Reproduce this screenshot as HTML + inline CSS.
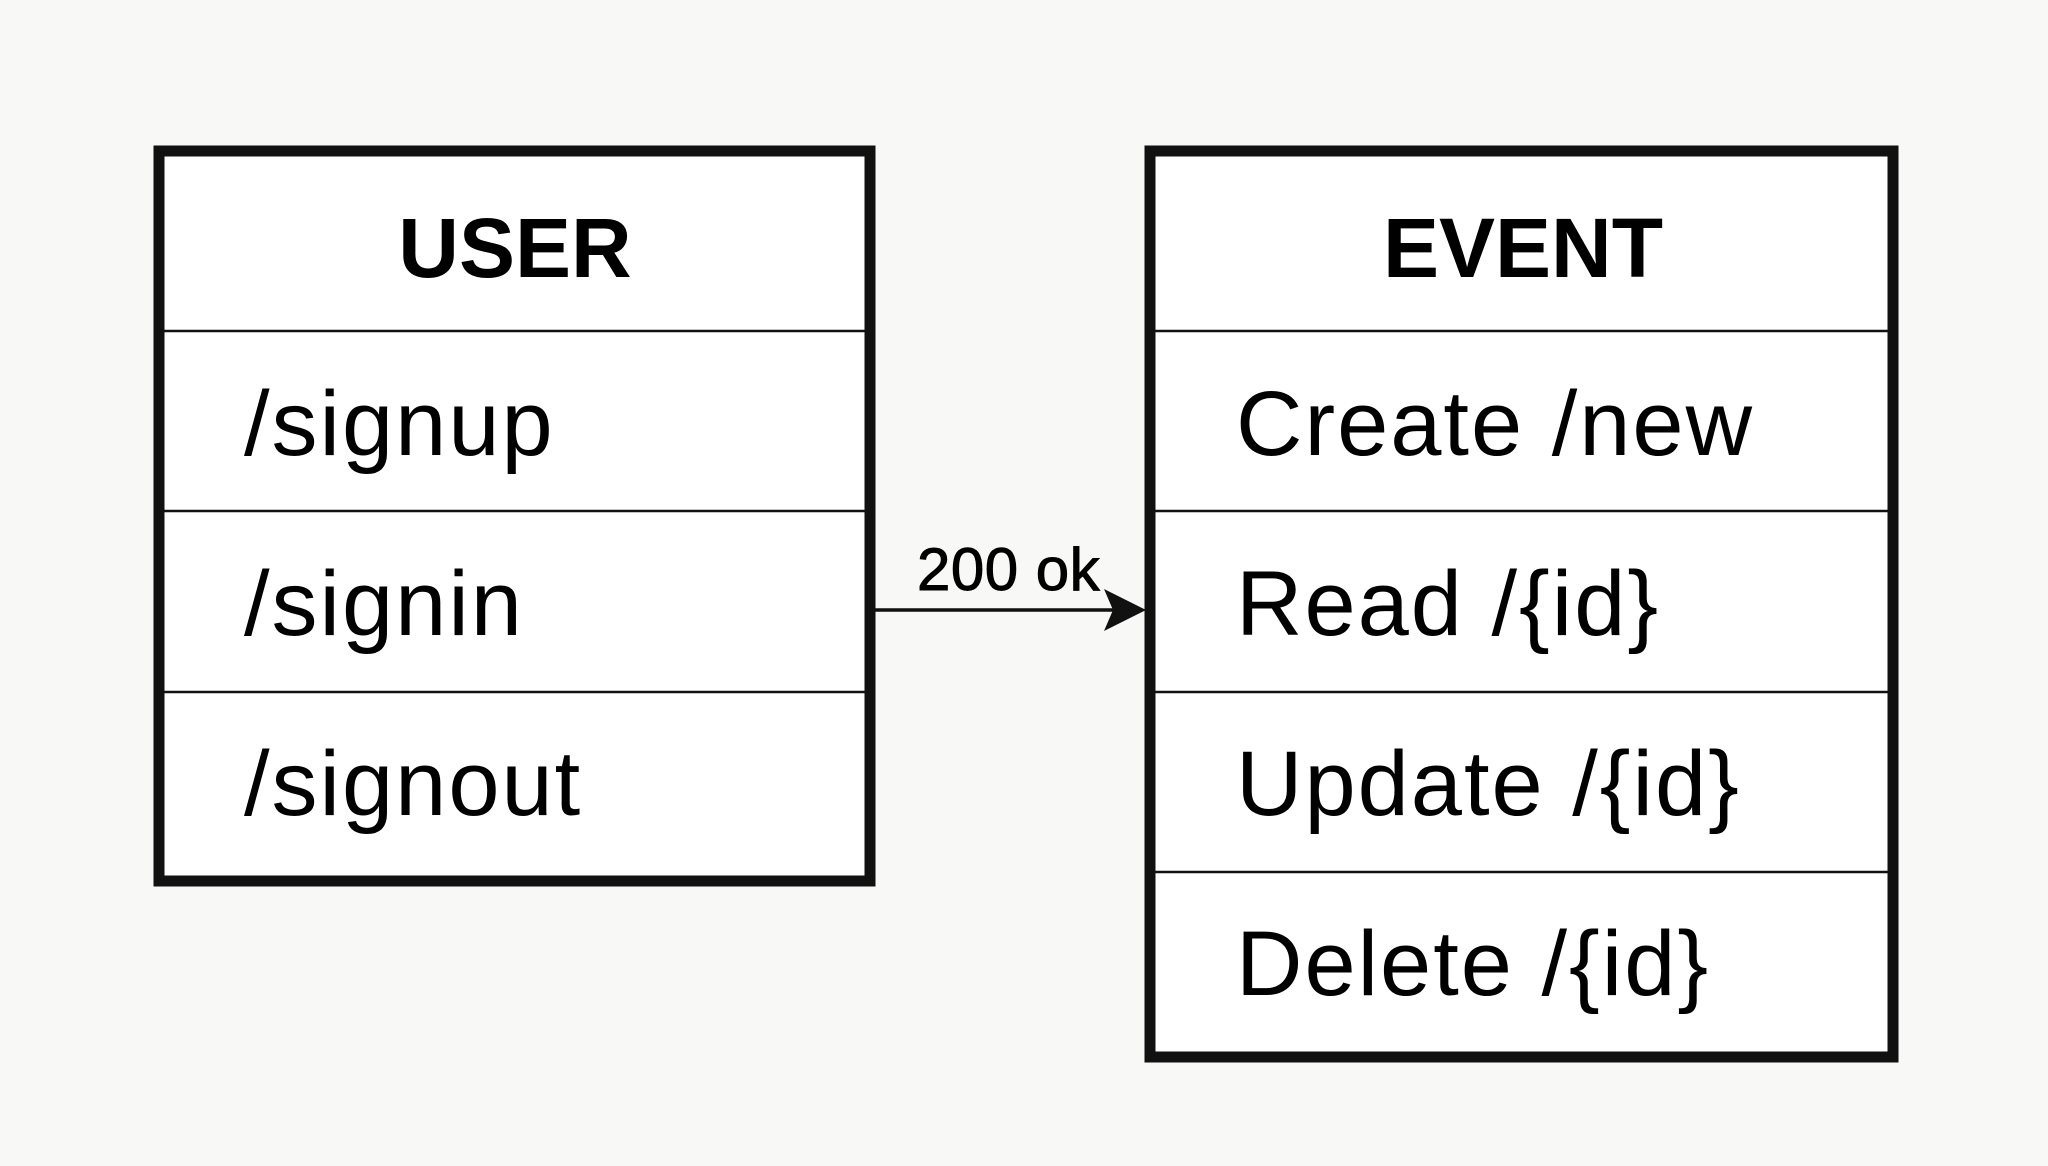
<!DOCTYPE html>
<html><head><meta charset="utf-8"><style>
html,body{margin:0;padding:0;background:#f8f8f6;}
svg{display:block;}
text{font-family:"Liberation Sans",Arial,sans-serif;fill:#000;}
</style></head><body>
<svg width="2048" height="1166" viewBox="0 0 2048 1166">
<rect width="2048" height="1166" fill="#f8f8f6"/>
<!-- USER box -->
<rect x="159" y="151" width="711" height="730" fill="#fff" stroke="#111" stroke-width="11"/>
<line x1="164" y1="331" x2="865" y2="331" stroke="#111" stroke-width="2.5"/>
<line x1="164" y1="511" x2="865" y2="511" stroke="#111" stroke-width="2.5"/>
<line x1="164" y1="692" x2="865" y2="692" stroke="#111" stroke-width="2.5"/>
<text x="515" y="277" font-size="84" font-weight="bold" text-anchor="middle">USER</text>
<text x="244" y="455" font-size="92" letter-spacing="2">/signup</text>
<text x="244" y="635" font-size="92" letter-spacing="2">/signin</text>
<text x="244" y="815" font-size="92" letter-spacing="2">/signout</text>
<!-- EVENT box -->
<rect x="1150" y="151" width="743" height="906" fill="#fff" stroke="#111" stroke-width="11"/>
<line x1="1155" y1="331" x2="1888" y2="331" stroke="#111" stroke-width="2.5"/>
<line x1="1155" y1="511" x2="1888" y2="511" stroke="#111" stroke-width="2.5"/>
<line x1="1155" y1="692" x2="1888" y2="692" stroke="#111" stroke-width="2.5"/>
<line x1="1155" y1="872" x2="1888" y2="872" stroke="#111" stroke-width="2.5"/>
<text x="1523" y="277" font-size="84" font-weight="bold" text-anchor="middle">EVENT</text>
<text x="1236" y="455" font-size="92" letter-spacing="2">Create /new</text>
<text x="1236" y="635" font-size="92" letter-spacing="2">Read /{id}</text>
<text x="1236" y="815" font-size="92" letter-spacing="2">Update /{id}</text>
<text x="1236" y="995" font-size="92" letter-spacing="2">Delete /{id}</text>
<!-- arrow -->
<line x1="875" y1="610" x2="1115" y2="610" stroke="#111" stroke-width="3.5"/>
<polygon points="1146,610 1104,589 1113,610 1104,631" fill="#111"/>
<text x="917" y="590" font-size="60" letter-spacing="0.5" stroke="#000" stroke-width="1">200 ok</text>
</svg>
</body></html>
